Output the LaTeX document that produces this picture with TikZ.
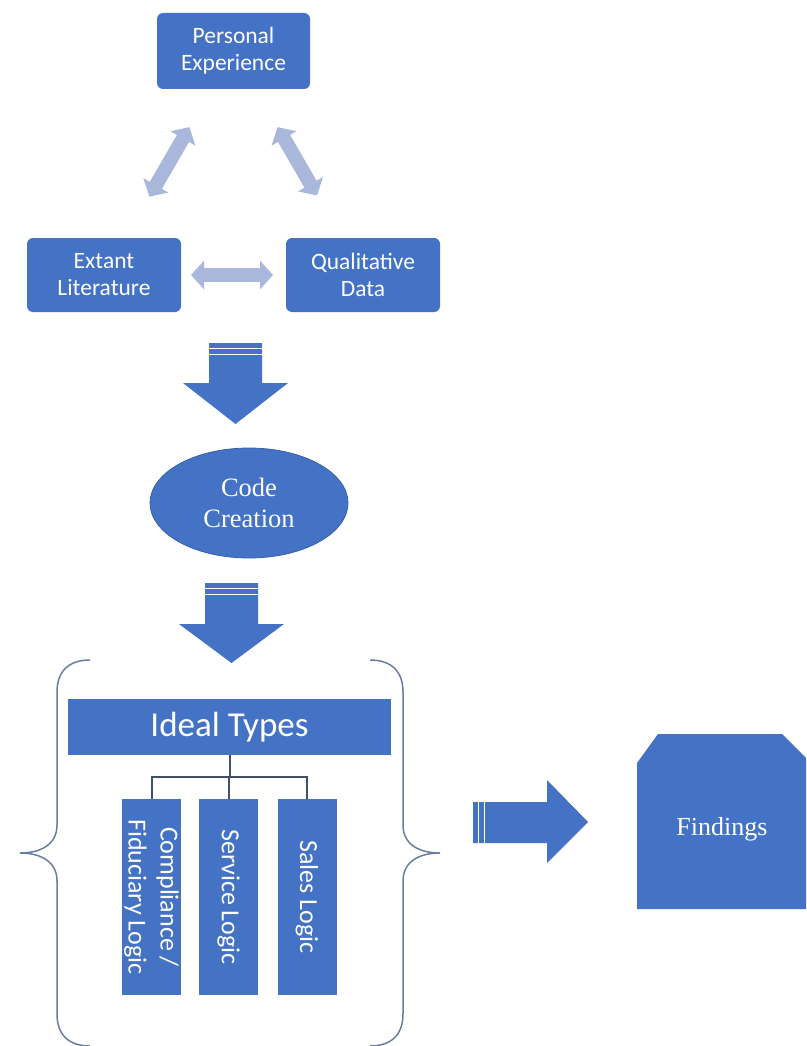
\documentclass[tikz,border=0pt]{standalone}
\usepackage{fontspec}
\setmainfont{Liberation Serif}
\newfontfamily\calfont{Carlito}
\usetikzlibrary{shapes.geometric,arrows.meta,calc}
\definecolor{officeblue}{RGB}{68,114,196}
\definecolor{officeedge}{RGB}{56,96,168}
\definecolor{paleblue}{RGB}{169,183,219}
\definecolor{bracecol}{RGB}{106,124,160}
\definecolor{treecol}{RGB}{66,80,106}
\begin{document}
\begin{tikzpicture}[x=1pt,y=-1pt,
  box/.style={fill=officeblue,text=white,rounded corners=6pt,align=center,
    inner sep=0pt,font=\calfont\fontsize{23.5}{27}\selectfont},
  bar/.style={fill=officeblue,text=white,inner sep=0pt,align=center},
  vbox/.style={bar,rotate=-90,minimum width=196pt,minimum height=59pt,
    font=\calfont\fontsize{26}{32}\selectfont},
  twoway/.style={draw=paleblue,line width=14pt,
    {Triangle[width=28pt,length=13pt]}-{Triangle[width=28pt,length=13pt]}},
  blockarrow/.style={fill=officeblue},
  stripe/.style={draw=white,line width=1pt},
  tree/.style={draw=treecol,line width=2pt},
  brace/.style={draw=bracecol,line width=1.5pt}]
\useasboundingbox (0,0) rectangle (806,1046);
\fill[white] (0,0) rectangle (806,1046);

% three sources
\node[box,minimum width=153pt,minimum height=76pt] (pe) at (233.5,51) {Personal\\Experience};
\node[box,minimum width=154pt,minimum height=74pt] (el) at (104,275) {Extant\\Literature};
\node[box,minimum width=154pt,minimum height=74pt] (qd) at (363,275) {Qualitative\\Data};

\draw[twoway] ($(pe.center)!0.34!(el.center)$) -- ($(pe.center)!0.65!(el.center)$);
\draw[twoway] ($(pe.center)!0.34!(qd.center)$) -- ($(pe.center)!0.645!(qd.center)$);
\draw[twoway] ($(el.center)!0.336!(qd.center)$) -- ($(el.center)!0.6525!(qd.center)$);

% first striped down arrow
\fill[blockarrow] (209,343) -- (262,343) -- (262,383) -- (288,383) -- (235.5,424)
  -- (183,383) -- (209,383) -- cycle;
\draw[stripe] (209,348) -- (262,348);
\draw[stripe] (209,354) -- (262,354);

% code creation
\node[ellipse,fill=officeblue,draw=officeedge,line width=0.8pt,minimum width=198pt,
  minimum height=110pt,inner sep=0pt,text=white,align=center,
  font=\fontsize{26.5}{31}\selectfont] (cc) at (249,503) {Code\\Creation};

% second striped down arrow
\fill[blockarrow] (205,583) -- (258,583) -- (258,624) -- (284,624) -- (231.5,663)
  -- (179,624) -- (205,624) -- cycle;
\draw[stripe] (205,588) -- (258,588);
\draw[stripe] (205,594) -- (258,594);

% braces around the ideal types
\draw[brace] (90,660) .. controls (68,660) and (57,672) .. (57,692) -- (57,825)
  .. controls (57,845) and (40,853) .. (20,853)
  .. controls (40,853) and (57,861) .. (57,881) -- (57,1014)
  .. controls (57,1034) and (68,1046) .. (90,1046);
\draw[brace] (370,660) .. controls (392,660) and (403,672) .. (403,692) -- (403,825)
  .. controls (403,845) and (420,853) .. (440,853)
  .. controls (420,853) and (403,861) .. (403,881) -- (403,1014)
  .. controls (403,1034) and (392,1046) .. (370,1046);

% ideal types and the three logics
\node[bar,minimum width=323pt,minimum height=56pt,
  font=\calfont\fontsize{35}{40}\selectfont] (it) at (229.5,727) {Ideal Types};
\node[vbox] (c1) at (151.5,897) {Compliance /\\Fiduciary Logic};
\node[vbox] (c2) at (228.5,897) {Service Logic};
\node[vbox] (c3) at (307,897) {Sales Logic};

\draw[tree] (it.south) -- ++(0,22) coordinate (hub);
\draw[tree] (c1.west) |- (hub) -| (c3.west);
\draw[tree] (hub) -- (c2.west |- hub) -- (c2.west);

% striped right arrow
\fill[blockarrow] (473,802) -- (547,802) -- (547,780) -- (588,822) -- (547,863)
  -- (547,843) -- (473,843) -- cycle;
\draw[stripe] (478,802) -- (478,843);
\draw[stripe] (484,802) -- (484,843);

% findings
\fill[officeblue] (637,763) -- (658,734) -- (782,734) -- (806,758) -- (806,909)
  -- (637,909) -- cycle;
\node[text=white,font=\fontsize{26}{30}\selectfont] (fd) at (722,829) {Findings};
\end{tikzpicture}
\end{document}
